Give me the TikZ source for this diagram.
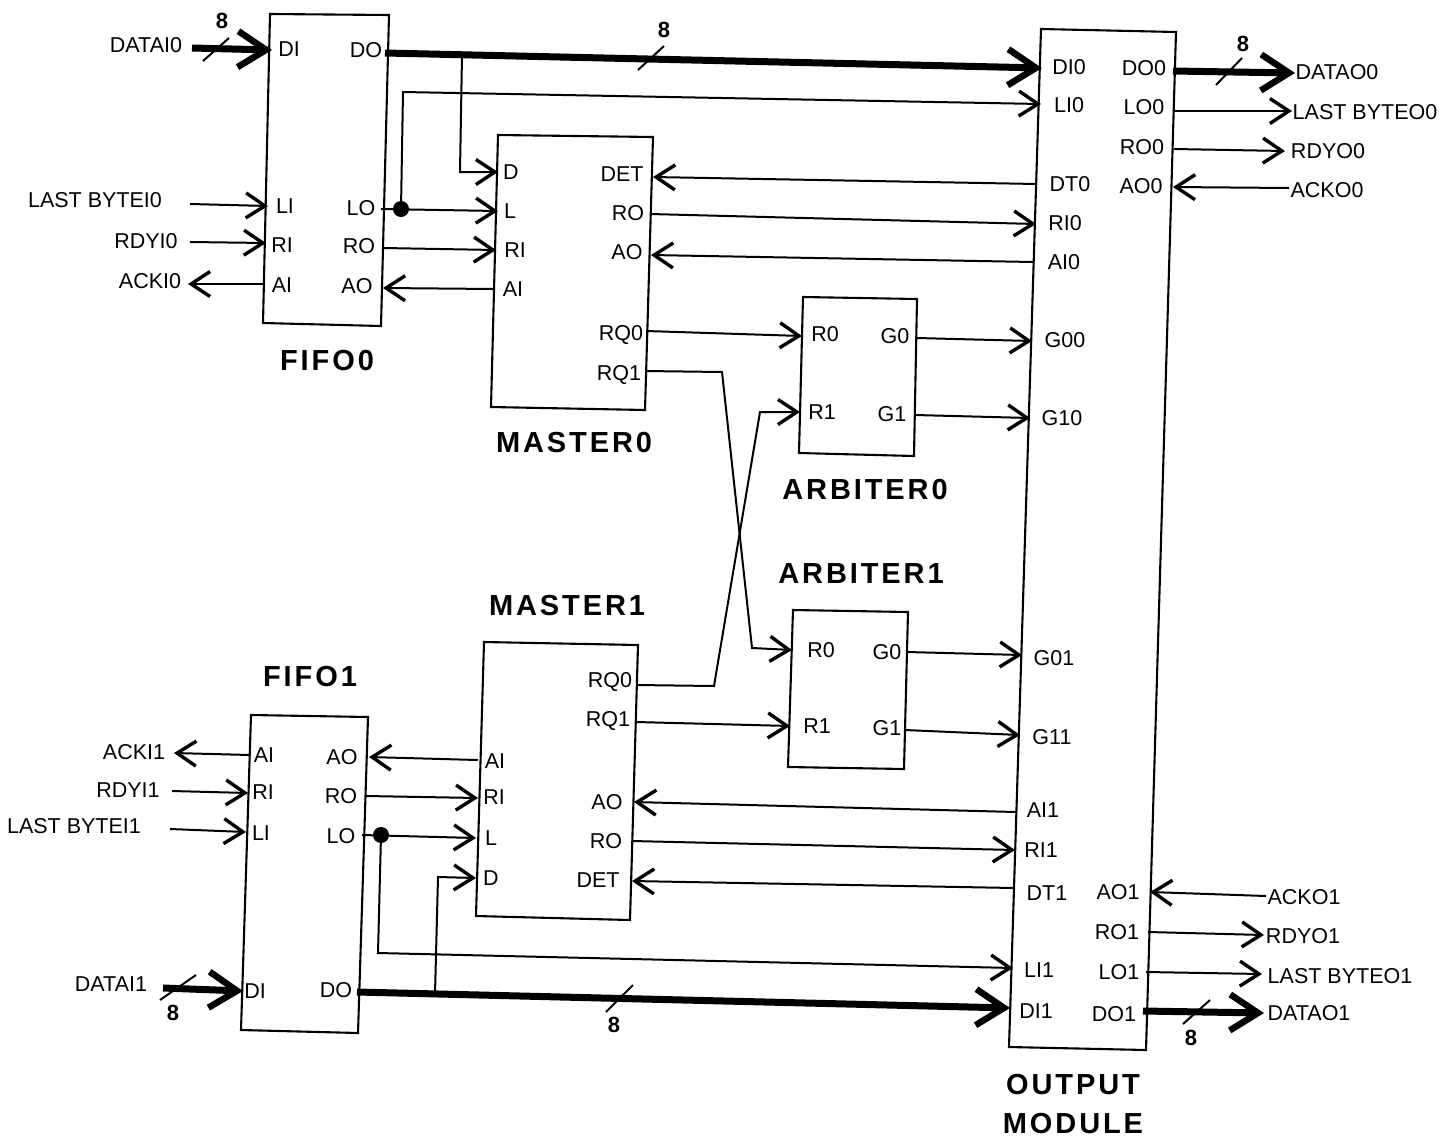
\documentclass[tikz,border=0pt]{standalone}
\usepackage{fontspec}
\setmainfont{Liberation Sans}
\newfontfamily\headfont[LetterSpace=10.0]{Liberation Sans}
\usetikzlibrary{arrows.meta}
\tikzset{
  box/.style={line width=2.1pt,line join=miter},
  wire/.style={line width=2pt},
  arr/.style={wire,-{Straight Barb[length=19pt,width=25pt,line width=3.4pt]}},
  busarr/.style={line width=7pt,-{Straight Barb[length=28pt,width=36pt,line width=6.5pt]}},
  slash/.style={line width=2pt},
  junction/.style={circle,fill=black,inner sep=0pt,minimum size=16pt},
  lab/.style={inner sep=0pt,font=\fontsize{21.5}{24}\selectfont},
  buslab/.style={inner sep=0pt,font=\fontsize{22}{24}\selectfont\bfseries},
  head/.style={inner sep=0pt,font=\fontsize{29}{39}\selectfont\headfont\bfseries,align=center}
}
\begin{document}
\begin{tikzpicture}[x=1pt,y=-1pt]
\useasboundingbox (0,0) rectangle (1456,1141);
% boxes
\draw[box] (270,14) -- (389,15) -- (381,326) -- (263,323) -- cycle;
\draw[box] (498,135) -- (653,137) -- (645,410) -- (491,407) -- cycle;
\draw[box] (803,297) -- (917,299) -- (914,456) -- (799,453) -- cycle;
\draw[box] (793,610) -- (908,612) -- (904,769) -- (788,767) -- cycle;
\draw[box] (484,642) -- (638,645) -- (630,920) -- (476,916) -- cycle;
\draw[box] (251,715) -- (368,717) -- (358,1033) -- (241,1030) -- cycle;
\draw[box] (1041,29) -- (1176,32) -- (1146,1050) -- (1009,1047) -- cycle;
% labels
\foreach \n/\x/\y/\t in {
 a1/146/45/DATAI0, a2/95/200/LAST BYTEI0, a3/146/241/RDYI0, a4/150/281/ACKI0,
 b1/289/49/DI, b2/366/50/DO, b3/285/206/LI, b4/361/208/LO, b5/282/245/RI, b6/359/246/RO, b7/282/285/AI, b8/357/286/AO,
 c1/511/172/D, c2/622/174/DET, c3/510/211/L, c4/628/213/RO, c5/515/250/RI, c6/627/252/AO, c7/513/289/AI, c8/621/335/RQ0, c9/619/375/RQ1,
 d1/825/334/R0, d2/895/336/G0, d3/822/412/R1, d4/892/414/G1,
 e1/821/650/R0, e2/887/652/G0, e3/817/726/R1, e4/887/728/G1,
 f1/610/682/RQ0, f2/608/721/RQ1, f3/495/761/AI, f4/494/797/RI, f5/607/802/AO, f6/491/838/L, f7/606/841/RO, f8/491/878/D, f9/598/880/DET,
 g1/134/752/ACKI1, g2/128/790/RDYI1, g3/74/826/LAST BYTEI1, g4/264/755/AI, g5/342/757/AO, g6/263/792/RI, g7/341/796/RO, g8/261/833/LI, g9/341/836/LO, g10/111/984/DATAI1, g11/255/991/DI, g12/336/990/DO,
 h1/1069/67/DI0, h2/1144/68/DO0, h3/1069/105/LI0, h4/1144/107/LO0, h5/1142/147/RO0, h6/1070/184/DT0, h7/1141/186/AO0, h8/1065/223/RI0, h9/1064/262/AI0, h10/1065/340/G00, h11/1062/418/G10, h12/1054/658/G01, h13/1052/737/G11, h14/1043/810/AI1, h15/1041/850/RI1, h16/1047/893/DT1, h17/1118/892/AO1, h18/1117/932/RO1, h19/1039/970/LI1, h20/1119/972/LO1, h21/1036/1011/DI1, h22/1114/1014/DO1,
 i1/1337/72/DATAO0, i2/1365/112/LAST BYTEO0, i3/1328/151/RDYO0, i4/1327/190/ACKO0, i5/1304/897/ACKO1, i6/1303/936/RDYO1, i7/1340/976/LAST BYTEO1, i8/1309/1013/DATAO1}
  {\node[lab] (\n) at (\x,\y) {\t};}
\foreach \n/\x/\y in {n1/222/21, n2/664/30, n3/1243/44, n4/173/1013, n5/614/1025, n6/1191/1038}
  {\node[buslab] (\n) at (\x,\y) {8};}
\node[head] (hf0) at (327,361) {FIFO0};
\node[head] (hm0) at (574,443) {MASTER0};
\node[head] (ha0) at (865,490) {ARBITER0};
\node[head] (ha1) at (861,574) {ARBITER1};
\node[head] (hm1) at (567,606) {MASTER1};
\node[head] (hf1) at (310,677) {FIFO1};
\node[head] (hout) at (1073,1104) {OUTPUT\\MODULE};
% connector ends
\foreach \n/\x/\y in {
 A1/192/48, A2/272/50, A3/385/53, A4/1042/68, A5/1173/71, A6/1295/73,
 B1/190/204, B2/268/206, B3/190/242, B4/266/243, B5/265/284, B6/188/284,
 C1/381/209, C2/498/211, C3/383/248, C4/496/250, C5/495/289, C6/383/288,
 D1/403/92, D2/1041/104, D3/462/55, D4/460/172, D5/498/172,
 E1/1037/184, E2/653/177, E3/650/214, E4/1036/224, E5/1033/262, E6/651/255,
 F1/646/331, F2/802/336, F3/645/371, F4/722/372, F5/752/648, F6/792/650,
 G1/636/685, G2/714/686, G3/760/412, G4/800/412, G5/636/722, G6/790/726,
 H1/917/338, H2/1032/341, H3/915/415, H4/1030/418, H5/907/652, H6/1022/655, H7/905/730, H8/1020/735,
 I1/1016/812, I2/634/802, I3/632/841, I4/1015/850, I5/1014/888, I6/632/881,
 J1/250/755, J2/174/753, J3/172/791, J4/248/793, J5/170/829, J6/246/832,
 K1/478/760, K2/369/757, K3/366/796, K4/478/798, K5/362/835, K6/476/838,
 L1/378/953, L2/1013/968, L3/435/994, L4/438/877, L5/476/878,
 M1/357/992, M2/1010/1008, M3/163/988, M4/243/991, M5/1143/1011, M6/1264/1013,
 N1/1146/972, N2/1262/974, N3/1148/932, N4/1264/935, N5/1266/896, N6/1150/892,
 O1/1174/111, O2/1292/111, O3/1174/149, O4/1285/151, O5/1289/188, O6/1173/187,
 S1/203/61, S2/229/38, S3/638/70, S4/664/46, S5/1216/85, S6/1242/58,
 S7/160/1000, S8/196/975, S9/606/1012, S10/633/985, S11/1183/1024, S12/1210/1000}
  {\coordinate (\n) at (\x,\y);}
\node[junction] (dot0) at (401,209) {};
\node[junction] (dot1) at (381,835) {};
% buses
\draw[busarr] (A1) -- (A2);
\draw[busarr] (A3) -- (A4);
\draw[busarr] (A5) -- (A6);
\draw[busarr] (M1) -- (M2);
\draw[busarr] (M3) -- (M4);
\draw[busarr] (M5) -- (M6);
\draw[slash] (S1) -- (S2);
\draw[slash] (S3) -- (S4);
\draw[slash] (S5) -- (S6);
\draw[slash] (S7) -- (S8);
\draw[slash] (S9) -- (S10);
\draw[slash] (S11) -- (S12);
% wires
\draw[arr] (B1) -- (B2);
\draw[arr] (B3) -- (B4);
\draw[arr] (B5) -- (B6);
\draw[arr] (C1) -- (C2);
\draw[arr] (C3) -- (C4);
\draw[arr] (C5) -- (C6);
\draw[arr] (dot0.center) -- (D1) -- (D2);
\draw[arr] (D3) -- (D4) -- (D5);
\draw[arr] (E1) -- (E2);
\draw[arr] (E3) -- (E4);
\draw[arr] (E5) -- (E6);
\draw[arr] (F1) -- (F2);
\draw[arr] (F3) -- (F4) -- (F5) -- (F6);
\draw[arr] (G1) -- (G2) -- (G3) -- (G4);
\draw[arr] (G5) -- (G6);
\draw[arr] (H1) -- (H2);
\draw[arr] (H3) -- (H4);
\draw[arr] (H5) -- (H6);
\draw[arr] (H7) -- (H8);
\draw[arr] (I1) -- (I2);
\draw[arr] (I3) -- (I4);
\draw[arr] (I5) -- (I6);
\draw[arr] (J1) -- (J2);
\draw[arr] (J3) -- (J4);
\draw[arr] (J5) -- (J6);
\draw[arr] (K1) -- (K2);
\draw[arr] (K3) -- (K4);
\draw[arr] (K5) -- (K6);
\draw[arr] (dot1.center) -- (L1) -- (L2);
\draw[arr] (L3) -- (L4) -- (L5);
\draw[arr] (N1) -- (N2);
\draw[arr] (N3) -- (N4);
\draw[arr] (N5) -- (N6);
\draw[arr] (O1) -- (O2);
\draw[arr] (O3) -- (O4);
\draw[arr] (O5) -- (O6);
\end{tikzpicture}
\end{document}
